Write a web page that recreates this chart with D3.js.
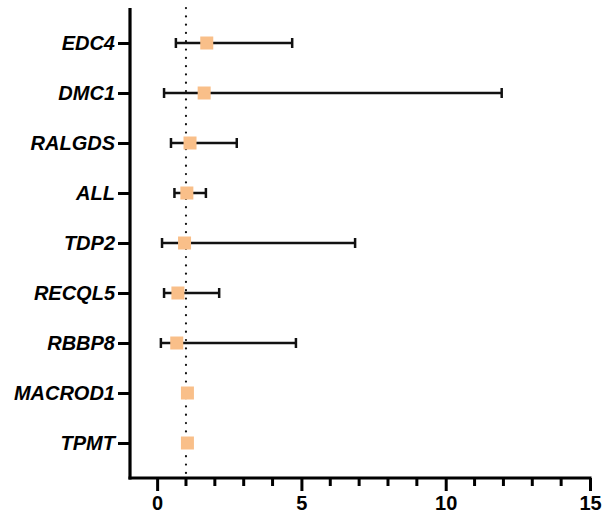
<!DOCTYPE html>
<html>
<head>
<meta charset="utf-8">
<script src="https://cdn.jsdelivr.net/npm/d3@7"></script>
<style>
  body { margin: 0; background: #fff; }
  text { font-family: "Liberation Sans", Arial, sans-serif; font-weight: bold; }
</style>
</head>
<body>
<div id="chart"></div>
<script>
// odds ratio with 95% CI
var genes = ["EDC4", "DMC1", "RALGDS", "ALL", "TDP2", "RECQL5", "RBBP8", "MACROD1", "TPMT"];
var estimate = [1.72, 1.63, 1.14, 1.03, 0.95, 0.72, 0.68, 1.05, 1.05];
var lower = [0.65, 0.24, 0.48, 0.60, 0.17, 0.24, 0.13, 1.05, 1.05];
var upper = [4.68, 11.94, 2.76, 1.69, 6.86, 2.15, 4.81, 1.05, 1.05];
var xTicks = [0, 5, 10, 15];
var xMinor = [1, 2, 3, 4, 6, 7, 8, 9, 11, 12, 13, 14];
var refLine = 1;

var width = 602, height = 516;
var margin = { top: 8, right: 12, bottom: 38, left: 130 };
var fontSize = 20;

var data = genes.map((g, i) => ({ gene: g, est: estimate[i], lo: lower[i], hi: upper[i] }));

var svg = d3.select("#chart").append("svg")
    .attr("width", width)
    .attr("height", height);

var x = d3.scaleLinear()
    .domain([-0.94, 15])
    .range([margin.left, width - margin.right]);

var y = d3.scalePoint()
    .domain(genes)
    .range([margin.top, height - margin.bottom])
    .padding(0.7);

var x0 = x.range()[0], yBottom = height - margin.bottom;

// dotted reference line at OR = 1
svg.append("line")
    .attr("x1", x(refLine)).attr("x2", x(refLine))
    .attr("y1", margin.top).attr("y2", yBottom)
    .attr("stroke", "#111")
    .attr("stroke-width", 2.2)
    .attr("stroke-linecap", "round")
    .attr("stroke-dasharray", "0.1 8.2");

// error bars
var bars = svg.append("g").selectAll("g")
    .data(data.filter(d => d.hi > d.lo))
    .join("g")
    .attr("stroke", "#111")
    .attr("stroke-width", 2.5);

bars.append("line")
    .attr("x1", d => x(d.lo)).attr("x2", d => x(d.hi))
    .attr("y1", d => y(d.gene)).attr("y2", d => y(d.gene));

bars.append("line")
    .attr("x1", d => x(d.lo)).attr("x2", d => x(d.lo))
    .attr("y1", d => y(d.gene) - 5).attr("y2", d => y(d.gene) + 5);

bars.append("line")
    .attr("x1", d => x(d.hi)).attr("x2", d => x(d.hi))
    .attr("y1", d => y(d.gene) - 5).attr("y2", d => y(d.gene) + 5);

// point estimates
svg.append("g").selectAll("rect")
    .data(data)
    .join("rect")
    .attr("x", d => x(d.est) - 6.5)
    .attr("y", d => y(d.gene) - 6.5)
    .attr("width", 13)
    .attr("height", 13)
    .attr("fill", "#f9bf89");

// y axis
var yAxis = svg.append("g")
    .attr("transform", `translate(${x0},0)`)
    .call(d3.axisLeft(y).tickSize(12).tickPadding(3));
yAxis.select(".domain").attr("stroke-width", 3.2)
    .attr("d", `M0,${margin.top}V${yBottom + 1.5}`);
yAxis.selectAll(".tick line").attr("stroke-width", 3);
yAxis.selectAll(".tick text")
    .style("font-size", fontSize + "px")
    .style("font-style", "italic")
    .attr("fill", "#000");

// x axis
var xAxis = svg.append("g")
    .attr("transform", `translate(0,${yBottom})`)
    .call(d3.axisBottom(x).tickValues(xTicks).tickSize(13).tickPadding(5).tickFormat(d3.format("d")));
xAxis.select(".domain").attr("stroke-width", 3.2)
    .attr("d", `M${x0 - 1.5},0H${x(15) + 1.5}`);
xAxis.selectAll(".tick line").attr("stroke-width", 3);
xAxis.selectAll(".tick text")
    .style("font-size", fontSize + "px")
    .attr("fill", "#000");

xAxis.append("g").selectAll("line")
    .data(xMinor)
    .join("line")
    .attr("x1", d => x(d)).attr("x2", d => x(d))
    .attr("y1", 0).attr("y2", 8)
    .attr("stroke", "#000")
    .attr("stroke-width", 3);
</script>
</body>
</html>
